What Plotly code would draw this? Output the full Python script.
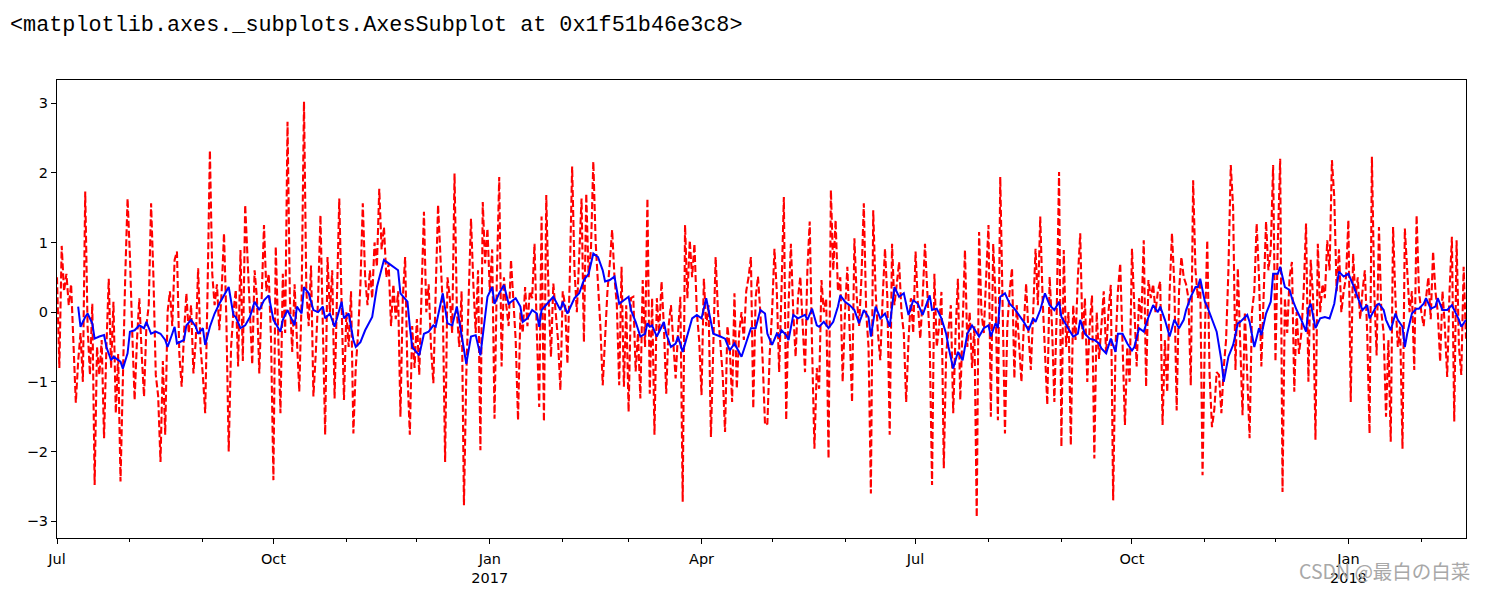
import pandas as pd
import plotly.graph_objects as go

start_date = "2016-07-01"

# daily values (red dashed series)
red_values = [
    0.5, -0.8, 0.95, 0.3, 0.55, 0.1, 0.4, -0.5, -1.3, -0.7,
    -0.3, -1.0, 1.73, -0.2, -0.9, 0.12, -2.48, -0.5, -0.9, -0.4,
    -1.81, -0.5, 0.48, -0.8, 0.15, -1.45, -0.6, -2.43, -0.9, 0.5,
    1.63, 0.8, -0.3, -1.26, -0.4, 0.2, -0.6, -1.21, -0.2, 0.1,
    1.56, 0.5, -0.9, -1.2, -2.15, -0.7, -1.76, 0.0, 0.3, -0.2,
    0.75, 0.87, -0.6, -1.07, -0.3, 0.27, -0.3, 0.1, -0.88, -0.4,
    0.63, -0.5, -0.9, -1.45, 0.3, 2.32, 0.55, 0.1, 0.4, -0.26,
    0.3, 1.13, -0.1, -2.0, -0.5, 0.0, 0.32, -0.78, 0.89, -0.7,
    1.54, 0.8, 0.1, -0.75, 0.6, 0.2, -0.88, 0.1, 1.25, 0.3,
    0.55, -0.4, -2.41, 0.94, -0.2, -1.45, 0.55, -0.3, 2.73, 0.2,
    -0.57, 0.4, -0.4, -1.14, 0.2, 3.02, 0.3, -0.2, 0.67, -1.21,
    -0.6, 0.2, 1.39, -0.3, -1.76, 0.79, 0.0, 0.6, -1.24, 0.2,
    1.63, 0.1, -1.26, 0.0, -0.5, 0.3, -1.74, -0.8, -0.3, 0.4,
    1.56, 0.5, 0.1, 0.6, 0.2, 1.0, 0.65, 1.77, 0.9, 1.22,
    0.5, 0.7, -0.2, 0.4, -0.1, 0.3, -1.5, 0.2, 0.79, -0.9,
    -1.76, -0.2, -0.8, -0.1, -0.9, 0.3, 1.44, 0.0, 0.4, -0.5,
    -1.02, 0.3, 1.54, 0.8, 0.1, -2.15, 0.5, 0.2, -0.3, 1.99,
    0.0, -0.5, 0.3, -2.77, -0.9, 0.2, 1.34, 0.4, -0.3, 0.6,
    -1.98, 1.58, 0.7, 1.2, 0.3, 0.9, -1.53, 0.5, 1.94, -0.78,
    0.5, 0.1, -0.2, 0.75, 0.2, -0.4, -1.55, 0.0, -0.3, 0.36,
    -0.2, 0.3, 0.2, 0.98, -0.3, -1.36, 1.37, -1.57, 1.68, 0.2,
    -0.64, 0.41, 0.0, -0.4, -1.12, 0.3, 0.1, -0.74, 0.5, 2.09,
    0.6, 0.0, 0.8, 1.63, -0.43, 1.7, 0.5, 0.9, 2.16, 1.0,
    0.4, -0.2, -1.05, -0.3, 0.3, 0.7, 1.18, 0.5, 0.1, -1.05,
    0.65, -1.07, 0.1, -1.43, 0.2, 0.22, -0.85, -0.3, -1.24, 0.46,
    -0.5, 1.63, -1.17, 0.2, -1.76, 0.2, -0.3, 0.44, -0.2, -1.17,
    -0.2, 0.1, -0.5, -0.95, -0.3, 0.22, -2.72, 1.25, 0.2, 1.03,
    0.5, 0.98, 0.0, -0.4, -1.19, 0.48, -0.2, 0.1, -1.79, -0.3,
    0.79, 0.0, -0.5, -0.9, -1.72, -0.2, -0.5, -1.29, 0.27, -1.1,
    -0.3, 0.0, -0.4, 0.3, 0.5, 0.79, -1.38, 0.2, 0.51, 0.0,
    -0.7, -1.62, -1.6, -0.6, 0.0, 0.91, 0.3, -0.86, 0.3, 1.65,
    -1.55, 0.1, 0.98, 0.0, -0.64, 0.2, 0.51, -0.3, -0.86, 0.6,
    1.3, -0.5, -1.96, -0.8, -1.1, 0.46, 0.0, 0.2, -2.1, 1.75,
    0.6, 1.32, 0.3, 0.5, -1.0, 0.0, 0.65, -0.3, -1.29, 1.06,
    0.2, -0.2, 0.5, 1.56, 0.0, -0.5, -2.6, 1.46, 0.3, -0.3,
    -0.69, 0.2, 0.91, 0.2, -1.76, 0.98, 0.1, 0.4, 0.72, 0.0,
    -0.3, -1.29, -0.4, 0.2, -0.3, 0.87, 0.1, -0.38, 0.2, 0.98,
    0.3, -0.4, -2.48, 0.55, -0.5, -0.2, 0.29, -2.24, -0.6, -0.2,
    0.1, -1.45, -0.3, 0.48, -1.26, -0.2, 0.89, -0.5, 0.0, -0.8,
    -0.2, -2.94, 1.15, 0.0, -0.3, 0.5, 1.25, -1.5, 0.98, 0.2,
    -1.55, 1.94, 0.2, -1.74, -0.2, 0.3, 0.63, -0.95, 0.1, -0.4,
    -1.0, -0.2, 0.41, -0.3, -0.83, 0.0, 0.91, 0.1, 1.37, 0.2,
    -0.5, -1.33, 0.51, -0.2, -1.29, 0.0, 2.01, -1.93, 0.89, -0.5,
    0.0, -1.91, 0.1, -0.4, 0.5, 1.13, -0.4, 0.2, -1.0, -0.2,
    0.24, -2.1, 0.0, -0.67, -0.2, 0.3, -0.6, 0.0, 0.39, -2.7,
    -0.5, 0.3, 0.7, -0.4, -1.62, -0.5, -1.0, 0.91, 0.0, -0.78,
    0.2, -0.1, 1.03, -1.07, 0.46, 0.2, 0.4, 0.0, 0.3, 0.44,
    -1.62, -0.4, -1.15, 0.3, 1.13, 0.4, -1.41, 0.3, 0.79, 0.5,
    0.4, 0.2, -1.05, 1.89, 0.6, 0.2, 0.46, -2.34, -0.3, 1.03,
    -0.9, -1.65, -1.4, -0.86, -0.9, -1.45, -0.8, -0.4, 0.6, 2.11,
    1.5, -0.83, 0.63, -0.4, -1.48, 0.0, -0.8, -1.81, 0.0, 0.3,
    1.27, 0.5, -0.78, 0.4, 1.3, 0.6, 0.9, 2.11, -0.71, 1.0,
    2.2, -2.58, 0.2, -0.3, 0.5, 0.72, -1.14, 0.0, -0.6, -0.3,
    0.3, 1.27, -1.0, 0.75, 0.2, -1.83, 0.98, 0.0, 0.4, 0.2,
    1.03, 0.6, 2.18, 1.65, 0.3, 0.9, 0.0, 0.3, 0.5, 1.32,
    -1.29, 0.84, 0.2, 0.5, -0.1, 0.3, 0.6, -0.3, -1.74, 2.23,
    0.3, -0.62, 1.22, 0.0, -0.3, -1.5, -0.4, -1.86, 1.22, 0.2,
    -0.5, -0.2, -1.96, 1.2, 0.5, 0.0, 0.3, -0.83, 1.39, 0.3,
    0.0, -0.2, 0.2, 0.5, -0.1, 0.87, 0.3, 0.0, -0.71, 0.3,
    -0.2, -0.93, 0.3, 1.08, -1.57, 1.03, -0.5, -0.9, 0.65, -0.38,
]

# moving-average (blue) series: day offset from start and value
blue_day = [
    9, 10, 12, 13, 15, 16, 18, 20, 21, 23, 24, 25, 27, 28, 30, 31, 33, 35, 37, 38,
    40, 42, 44, 46, 47, 49, 50,
    51, 54, 55, 57, 59, 60, 62, 63, 65, 67, 69, 71, 73, 75, 76, 78, 80, 82, 84, 86,
    88, 90, 92, 95, 96, 98, 100,
    101, 102, 104, 105, 107, 109, 111, 113, 114, 116, 118, 121, 122, 124, 126, 127,
    129, 131, 134, 136, 138, 139, 141, 143, 145, 146, 149, 150, 151,
    154, 156, 158, 160, 161, 164, 166, 168, 170, 172, 174, 176, 178, 180, 182, 183,
    185, 186, 188, 190, 192, 195, 197, 198, 200, 202,
    204, 205, 206, 209, 211, 214, 215, 217, 220, 222, 224, 226, 228, 230, 232, 233,
    235, 237, 239, 241, 243, 244, 246, 248, 250, 251,
    252, 253, 255, 257, 258, 259, 261, 263, 264, 266, 268, 270, 272, 274, 276, 278,
    279, 282, 284, 286, 288, 291, 293, 295, 297, 299, 301,
    302, 304, 306, 307, 308, 310, 311, 313, 315, 318, 319, 321, 323, 324, 326, 328,
    330, 332, 333, 335, 337, 339, 341, 343, 345, 346, 348, 350, 352,
    354, 356, 358, 360, 362, 364, 366, 368, 371, 372, 374, 376, 378, 379, 381, 383,
    385, 387, 389, 391, 392, 394, 396, 397, 399, 400, 401,
    403, 405, 407, 409, 411, 413, 415, 416, 418, 420, 422, 424, 426, 427, 429, 431,
    432, 434, 435, 437, 439, 441, 443, 444, 446, 448, 450, 451,
    453, 455, 457, 458, 460, 462, 464, 466, 468, 469, 471, 473, 475, 477, 479, 480,
    482, 484, 485, 486, 488, 489, 491, 493, 495, 496, 498, 500, 502,
    503, 506, 507, 509, 511, 512, 514, 516, 517, 519, 520, 522, 524, 525, 527, 529,
    531, 532, 533, 535, 537, 539, 541, 543, 545, 547, 549, 551, 553,
    555, 557, 558, 560, 561, 562, 564, 565, 567, 569, 570, 572, 573, 574, 576, 578,
    579, 581, 582, 584, 586, 587, 589, 591, 593, 595, 596, 597, 599,
]
blue_value = [
    0.08, -0.21, -0.07, -0.02, -0.16, -0.38, -0.35, -0.33, -0.50, -0.69, -0.64, -0.66,
    -0.71, -0.81, -0.59, -0.28, -0.26, -0.19, -0.23, -0.14, -0.31, -0.28, -0.31, -0.40,
    -0.50, -0.31, -0.21,
    -0.45, -0.40, -0.19, -0.11, -0.21, -0.31, -0.23, -0.47, -0.21, -0.02, 0.12, 0.24,
    0.36, -0.04, -0.07, -0.23, -0.19, -0.07, 0.15, 0.03, 0.17, 0.24, -0.11, -0.28,
    -0.11, 0.03, -0.11,
    -0.19, 0.08, -0.02, 0.36, 0.27, 0.03, 0.00, 0.08, -0.09, -0.02, -0.21, 0.15, -0.09,
    -0.02, -0.40, -0.50, -0.43, -0.26, -0.07, 0.36, 0.63, 0.75, 0.70, 0.65, 0.60, 0.27,
    0.15, -0.21, -0.50,
    -0.62, -0.31, -0.28, -0.19, -0.21, 0.27, -0.16, -0.19, 0.08, -0.31, -0.74, -0.35,
    -0.33, -0.62, -0.11, 0.22, 0.36, 0.12, 0.27, 0.39, 0.12, 0.20, 0.08, -0.14, -0.09,
    0.03,
    -0.02, -0.21, 0.03, 0.15, 0.22, 0.03, 0.15, -0.02, 0.20, 0.27, 0.46, 0.55, 0.84,
    0.79, 0.60, 0.44, 0.46, 0.51, 0.12, 0.17, 0.22, 0.03, -0.14, -0.35, -0.31, -0.16,
    -0.21, -0.19, -0.35, -0.21, -0.14, -0.31, -0.50, -0.45, -0.35, -0.57, -0.31, -0.09,
    -0.04, -0.09, 0.20, -0.11, -0.31, -0.35, -0.38, -0.55, -0.45, -0.64, -0.45, -0.23,
    -0.23, 0.03, -0.02,
    -0.31, -0.47, -0.31, -0.35, -0.26, -0.33, -0.40, -0.04, -0.09, -0.04, -0.11, 0.05,
    -0.19, -0.21, -0.14, -0.23, -0.14, 0.08, 0.24, 0.15, 0.10, 0.03, -0.16, 0.03, -0.07,
    -0.35, 0.08, -0.09, -0.02,
    -0.21, 0.36, 0.22, 0.27, -0.04, 0.17, 0.12, -0.04, 0.24, 0.03, 0.05, -0.09, -0.31,
    -0.50, -0.81, -0.57, -0.69, -0.31, -0.19, -0.31, -0.35, -0.23, -0.19, -0.35, -0.16,
    -0.23, 0.22,
    0.27, 0.12, 0.05, -0.04, -0.14, -0.26, -0.09, -0.14, 0.03, 0.27, 0.10, 0.03, 0.15,
    -0.07, -0.19, -0.31, -0.35, -0.31, -0.11, -0.31, -0.38, -0.40, -0.45, -0.52, -0.59,
    -0.38, -0.57, -0.31,
    -0.31, -0.45, -0.55, -0.50, -0.23, -0.28, -0.07, 0.10, 0.00, 0.08, -0.11, -0.35,
    -0.11, -0.23, -0.11, 0.03, 0.22, 0.36, 0.36, 0.48, 0.15, 0.08, -0.11, -0.28, -0.69,
    -1.00, -0.64, -0.47, -0.16,
    -0.14, -0.04, -0.14, -0.50, -0.23, -0.33, -0.02, 0.15, 0.55, 0.55, 0.65, 0.36, 0.32,
    0.20, 0.03, -0.11, -0.28, 0.05, 0.12, -0.23, -0.09, -0.07, -0.09, 0.12, 0.58, 0.51,
    0.55, 0.39, 0.22,
    0.03, 0.10, -0.09, 0.03, 0.10, 0.12, 0.03, -0.11, -0.26, -0.02, -0.11, -0.21, -0.50,
    -0.31, -0.02, 0.05, 0.05, 0.12, 0.20, 0.05, 0.08, 0.20, 0.03, 0.03, 0.10, -0.04,
    -0.11, -0.21, -0.11,
]

x_tick_dates = ["2016-07-01", "2016-10-01", "2017-01-01", "2017-04-01",
                "2017-07-01", "2017-10-01", "2018-01-01"]
x_tick_text = ["Jul", "Oct", "Jan<br>2017", "Apr", "Jul", "Oct", "Jan<br>2018"]
y_tick_vals = [-3, -2, -1, 0, 1, 2, 3]
y_tick_text = ["\u22123", "\u22122", "\u22121", "0", "1", "2", "3"]

red_dates = pd.date_range(start_date, periods=len(red_values), freq="D")
blue_dates = pd.Timestamp(start_date) + pd.to_timedelta(blue_day, unit="D")

fig = go.Figure()
fig.add_trace(go.Scatter(
    x=red_dates, y=red_values, mode="lines",
    line=dict(color="#ff0000", width=2.1, dash="7px,3px"),
    showlegend=False,
))
fig.add_trace(go.Scatter(
    x=blue_dates, y=blue_value, mode="lines",
    line=dict(color="#0000ff", width=2),
    showlegend=False,
))

tick_font = dict(family="DejaVu Sans", size=14.5, color="#000000")

fig.update_layout(
    width=1486, height=590,
    margin=dict(l=57, r=20, t=80, b=52),
    paper_bgcolor="white", plot_bgcolor="white",
    xaxis=dict(
        type="date", automargin=False,
        range=[red_dates[0], red_dates[-1]],
        tickmode="array", tickvals=x_tick_dates, ticktext=x_tick_text,
        ticks="outside", ticklen=5, tickwidth=1, tickcolor="#000000",
        ticklabelstandoff=3,
        minor=dict(ticks="outside", ticklen=3, tickwidth=1, tickcolor="#000000",
                   dtick="M1", tick0="2016-07-01", showgrid=False),
        showgrid=False, zeroline=False,
        showline=True, mirror=True, linecolor="#000000", linewidth=1,
        tickfont=tick_font,
    ),
    yaxis=dict(
        automargin=False,
        range=[-3.24, 3.33],
        tickmode="array", tickvals=y_tick_vals, ticktext=y_tick_text,
        ticks="outside", ticklen=5, tickwidth=1, tickcolor="#000000",
        showgrid=False, zeroline=False,
        showline=True, mirror=True, linecolor="#000000", linewidth=1,
        tickfont=tick_font,
    ),
    annotations=[
        dict(text="&lt;matplotlib.axes._subplots.AxesSubplot at 0x1f51b46e3c8&gt;",
             xref="paper", yref="paper", x=-0.0348, y=1.12,
             xanchor="left", yanchor="middle", showarrow=False,
             font=dict(family="Liberation Mono", size=21.8, color="#000000")),
        dict(text="CSDN @最白の白菜",
             xref="paper", yref="paper", x=1.0043, y=-0.072,
             xanchor="right", yanchor="middle", showarrow=False,
             font=dict(family="Noto Sans CJK SC", size=19.5, color="#a8a8a8")),
    ],
)

fig.write_html("out.html")
